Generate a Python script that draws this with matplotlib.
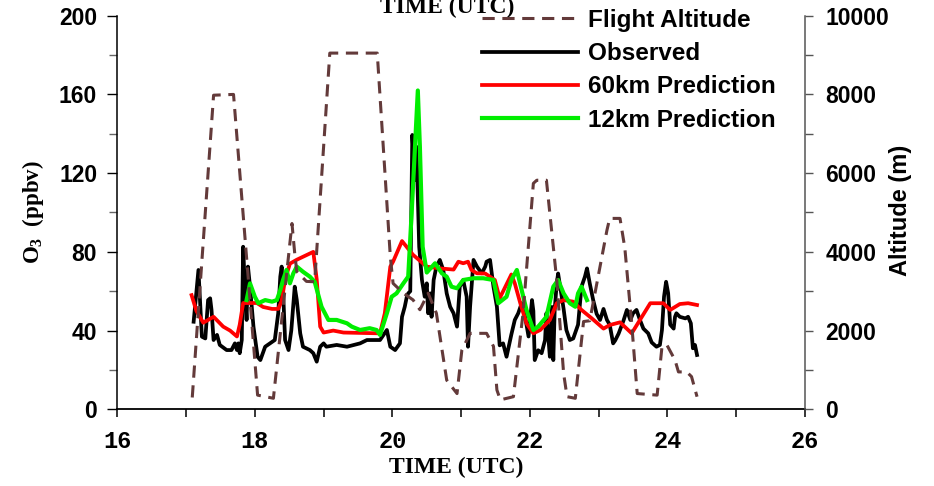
import matplotlib
matplotlib.use("Agg")
import matplotlib.pyplot as plt
from matplotlib.ticker import MultipleLocator
from matplotlib.font_manager import FontProperties

plt.rcParams["mathtext.fontset"] = "custom"
plt.rcParams["mathtext.rm"] = "Liberation Serif:bold"
plt.rcParams["mathtext.it"] = "Liberation Serif:bold"
plt.rcParams["mathtext.bf"] = "Liberation Serif:bold"

# ---- flight altitude (m) ----
alt_time = [17.09, 17.40, 17.69, 18.04, 18.27, 18.54, 18.58, 18.61, 18.75, 18.87,
            19.09, 19.78, 19.97, 20.01, 20.16, 20.30, 20.40, 20.52, 20.64, 20.79,
            20.94, 21.01, 21.13, 21.37, 21.47, 21.52, 21.57, 21.76, 21.90, 22.05,
            22.10, 22.24, 22.39, 22.49, 22.54, 22.66, 22.78, 22.87, 23.12, 23.16,
            23.31, 23.38, 23.48, 23.56, 23.85, 23.92, 23.99, 24.11, 24.16, 24.28,
            24.35, 24.43]
alt_m = [300, 7980, 8000, 360, 280, 4720, 3960, 3500, 3250, 3240,
         9050, 9050, 3880, 3200, 2950, 2780, 2530, 2950, 2440, 740,
         400, 1500, 1930, 1930, 1600, 490, 240, 320, 2440, 5740,
         5820, 5820, 3280, 910, 320, 280, 2230, 2250, 4550, 4850,
         4850, 4100, 2180, 400, 360, 1590, 1640, 1250, 950, 950,
         830, 320]

# ---- observed ozone (ppbv) ----
obs_time = [17.11, 17.18, 17.23, 17.28, 17.32, 17.35, 17.37, 17.40, 17.45, 17.49,
            17.59, 17.66, 17.71, 17.74, 17.76, 17.78, 17.81, 17.83, 17.86, 17.88,
            17.90, 17.93, 17.98, 18.04, 18.08, 18.15, 18.22, 18.29, 18.34, 18.37,
            18.39, 18.41, 18.44, 18.49, 18.53, 18.58, 18.61, 18.66, 18.70, 18.80,
            18.85, 18.90, 18.95, 19.00, 19.04, 19.19, 19.34, 19.53, 19.63, 19.82,
            19.92, 19.97, 20.04, 20.11, 20.14, 20.18, 20.21, 20.23, 20.26, 20.29,
            20.33, 20.35, 20.39, 20.43, 20.47, 20.50, 20.52, 20.55, 20.57, 20.60,
            20.64, 20.69, 20.74, 20.79, 20.84, 20.89, 20.94, 20.98, 21.03, 21.08,
            21.10, 21.13, 21.18, 21.23, 21.30, 21.35, 21.37, 21.42, 21.47, 21.52,
            21.56, 21.61, 21.66, 21.73, 21.78, 21.83, 21.88, 21.93, 21.98, 22.03,
            22.05, 22.07, 22.12, 22.17, 22.22, 22.24, 22.29, 22.32, 22.34, 22.36,
            22.39, 22.41, 22.44, 22.49, 22.53, 22.58, 22.63, 22.70, 22.75, 22.80,
            22.83, 22.87, 22.92, 22.97, 23.02, 23.07, 23.12, 23.16, 23.21, 23.24,
            23.29, 23.36, 23.41, 23.46, 23.50, 23.55, 23.60, 23.65, 23.72, 23.77,
            23.84, 23.89, 23.92, 23.95, 23.98, 24.01, 24.04, 24.09, 24.11, 24.13,
            24.18, 24.26, 24.30, 24.34, 24.37, 24.40, 24.43]
obs_o3 = [44.5, 70.8, 36.9, 36.0, 55.5, 56.4, 50.5, 35.2, 37.8, 32.7,
          30.1, 30.1, 33.5, 30.1, 33.5, 28.5, 35.2, 82.6, 57.2, 45.4,
          72.5, 62.3, 42.0, 26.7, 25.0, 31.8, 33.5, 35.2, 48.8, 67.4,
          72.5, 60.6, 35.2, 30.1, 40.0, 62.3, 55.5, 38.6, 31.8, 30.1,
          28.5, 24.2, 31.8, 33.5, 31.8, 32.7, 31.8, 33.5, 35.2, 35.2,
          40.3, 31.8, 30.1, 33.5, 47.0, 52.1, 57.2, 58.9, 60.0, 139.4,
          116.5, 133.4, 82.6, 65.7, 57.2, 64.0, 48.8, 58.9, 47.0, 65.7,
          72.5, 75.9, 70.8, 58.9, 52.1, 48.8, 42.0, 62.3, 65.7, 57.2,
          31.8, 52.1, 75.9, 72.5, 69.1, 72.5, 75.0, 75.9, 62.3, 52.1,
          32.5, 33.5, 26.7, 38.0, 45.4, 48.8, 53.9, 47.0, 37.0, 55.5,
          50.0, 25.0, 30.0, 28.5, 35.2, 48.8, 26.7, 52.0, 25.0, 50.5,
          64.0, 69.0, 62.3, 51.0, 40.3, 35.2, 36.0, 43.0, 62.3, 67.4,
          71.6, 64.0, 55.5, 48.5, 45.4, 51.0, 45.4, 43.0, 33.5, 35.0,
          38.5, 45.0, 50.5, 45.4, 48.8, 50.5, 45.4, 41.0, 38.6, 34.0,
          31.8, 32.7, 40.3, 57.2, 64.8, 59.0, 43.0, 41.0, 47.0, 48.8,
          47.0, 46.2, 47.0, 43.7, 31.0, 32.7, 27.6]

# ---- 60 km model prediction (ppbv) ----
p60_time = [17.08, 17.15, 17.25, 17.40, 17.54, 17.64, 17.74, 17.78, 17.83, 18.03,
            18.12, 18.25, 18.34, 18.39, 18.44, 18.51, 18.61, 18.85, 18.90, 18.95,
            19.00, 19.14, 19.29, 19.82, 19.89, 19.97, 20.01, 20.14, 20.30, 20.50,
            20.69, 20.89, 20.96, 21.03, 21.10, 21.15, 21.23, 21.35, 21.49, 21.56,
            21.66, 21.73, 21.78, 21.86, 21.95, 22.05, 22.15, 22.29, 22.39, 22.49,
            22.63, 22.75, 22.90, 23.07, 23.16, 23.31, 23.48, 23.60, 23.75, 23.94,
            24.04, 24.18, 24.30, 24.43]
p60_o3 = [58.0, 50.0, 44.0, 47.0, 42.0, 40.0, 37.0, 43.0, 54.0, 54.0,
          52.0, 51.0, 51.0, 55.0, 66.0, 74.0, 76.0, 80.0, 66.0, 42.0,
          39.0, 40.0, 39.0, 38.6, 48.8, 72.5, 75.0, 85.5, 78.5, 72.5,
          71.6, 71.0, 75.0, 74.2, 75.0, 70.8, 69.1, 69.0, 65.7, 56.4,
          63.5, 68.5, 64.0, 53.9, 43.7, 38.6, 40.3, 45.4, 53.9, 55.5,
          54.7, 50.5, 46.2, 41.0, 42.8, 44.2, 38.6, 45.4, 53.9, 53.9,
          50.5, 53.5, 53.9, 53.0]

# ---- 12 km model prediction (ppbv) ----
p12_time = [17.88, 17.93, 18.00, 18.05, 18.15, 18.25, 18.32, 18.37, 18.41, 18.46,
            18.51, 18.56, 18.61, 18.70, 18.80, 18.87, 18.97, 19.07, 19.19, 19.34,
            19.41, 19.53, 19.67, 19.77, 19.82, 19.92, 19.99, 20.06, 20.16, 20.23,
            20.28, 20.37, 20.40, 20.44, 20.50, 20.62, 20.72, 20.79, 20.86, 20.94,
            21.03, 21.18, 21.32, 21.47, 21.54, 21.66, 21.73, 21.81, 21.88, 21.95,
            22.05, 22.12, 22.24, 22.34, 22.41, 22.49, 22.58, 22.66, 22.70, 22.75,
            22.83]
p12_o3 = [55.5, 64.0, 57.2, 53.9, 55.5, 54.7, 55.5, 60.6, 65.7, 70.8,
          64.0, 69.1, 72.5, 69.9, 67.4, 64.8, 52.1, 45.4, 45.4, 43.7,
          42.0, 40.3, 41.2, 40.3, 37.8, 48.8, 57.2, 58.9, 64.0, 67.4,
          99.6, 162.0, 133.4, 82.6, 69.5, 74.2, 69.1, 67.4, 62.3, 61.5,
          65.7, 66.6, 66.6, 65.7, 53.9, 57.2, 65.7, 70.8, 60.6, 50.5,
          40.3, 42.0, 47.0, 62.3, 65.7, 58.9, 53.9, 52.1, 58.9, 62.3,
          55.5]

W, H = 934, 486
fig = plt.figure(figsize=(W / 100, H / 100), dpi=100)
x0, x1, y0, y1 = 117.3, 805.0, 15.7, 409.3
ax = fig.add_axes([x0 / W, 1 - y1 / H, (x1 - x0) / W, (y1 - y0) / H])
ax.patch.set_visible(False)
ax2 = ax.twinx()

tick_font = FontProperties(family="Liberation Sans", weight="bold", size=16.5)
mono_font = FontProperties(family="Liberation Mono", weight="bold", size=17)
serif_font = FontProperties(family="Liberation Serif", weight="bold", size=17)

lw = 2.7
l_obs, = ax.plot(obs_time, obs_o3, color="black", lw=lw, zorder=3)
l_60, = ax.plot(p60_time, p60_o3, color="#ff0000", lw=lw, zorder=4)
l_12, = ax.plot(p12_time, p12_o3, color="#00ee00", lw=lw + 0.3, zorder=5)
l_alt, = ax2.plot(alt_time, alt_m, color="#633a3a", lw=2.2, dashes=(4.0, 2.5))

ax.set_xlim(16, 26)
ax.set_ylim(0, 200)
ax2.set_ylim(0, 10000)

ax.xaxis.set_major_locator(MultipleLocator(2))
ax.xaxis.set_minor_locator(MultipleLocator(1))
ax.yaxis.set_major_locator(MultipleLocator(40))
ax.yaxis.set_minor_locator(MultipleLocator(20))
ax2.yaxis.set_major_locator(MultipleLocator(2000))
ax2.yaxis.set_minor_locator(MultipleLocator(1000))

for s in ("top", "right"):
    ax.spines[s].set_visible(False)
for s in ("top", "left", "bottom"):
    ax2.spines[s].set_visible(False)
ax.spines["left"].set_linewidth(1.1)
ax.spines["bottom"].set_linewidth(1.3)
ax2.spines["right"].set_color("#555555")
ax2.spines["right"].set_linewidth(1.1)

ax.tick_params(axis="x", which="both", direction="out", length=6, width=1.1, pad=9)
ax.tick_params(axis="y", which="major", direction="out", length=7.5, width=1.0, pad=7)
ax.tick_params(axis="y", which="minor", direction="out", length=5.5, width=1.0, color="#666666")
ax2.tick_params(axis="y", which="both", direction="out", length=5.5, width=1.0,
                color="#555555", pad=9)

for lab in ax.get_xticklabels():
    lab.set_fontproperties(mono_font)
for lab in ax.get_yticklabels():
    lab.set_fontproperties(tick_font)
for lab in ax2.get_yticklabels():
    lab.set_fontproperties(tick_font)

fig.text(456 / W, 1 - 467 / H, "TIME (UTC)", fontproperties=serif_font,
         ha="center", va="center")
fig.text(447 / W, 1 - 13 / H, "TIME (UTC)", fontproperties=serif_font,
         ha="center", va="baseline")
fig.text(33 / W, 1 - 212 / H, r"O$_3$  (ppbv)",
         fontproperties=FontProperties(family="Liberation Serif", weight="bold", size=16.5),
         rotation=90, ha="center", va="center")
fig.text(901 / W, 1 - 210 / H, "Altitude (m)",
         fontproperties=FontProperties(family="Liberation Sans", weight="bold", size=17),
         rotation=90, ha="center", va="center")

fig.legend([l_alt, l_obs, l_60, l_12],
           ["Flight Altitude", "Observed", "60km Prediction", "12km Prediction"],
           loc="upper left", bbox_to_anchor=(482 / W, 1 - 9 / H),
           frameon=False,
           prop=FontProperties(family="Liberation Sans", weight="bold", size=17.5),
           handlelength=3.95, handletextpad=0.42, labelspacing=0.42,
           borderpad=0, borderaxespad=0)

fig.savefig("out.png", dpi=100)
